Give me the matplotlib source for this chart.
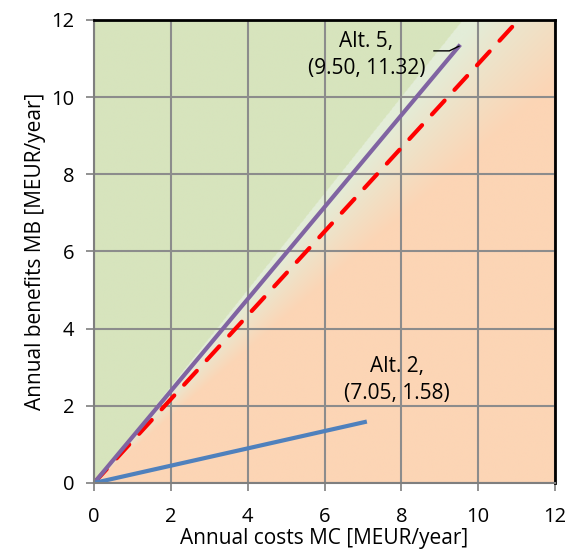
import numpy as np
import matplotlib
matplotlib.use("Agg")
import matplotlib.pyplot as plt
from matplotlib.colors import to_rgb

plt.rcParams['font.family'] = ['Open Sans', 'DejaVu Sans']

# Alternatives: annual costs vs annual benefits (MEUR/year)
alt5_cost = [0.0, 9.50]
alt5_benefit = [0.0, 11.32]
alt2_cost = [0.0, 7.05]
alt2_benefit = [0.0, 1.58]
# Threshold line
threshold_cost = [0.0, 11.05]
threshold_benefit = [0.0, 12.0]
ticks = [0, 2, 4, 6, 8, 10, 12]

fig = plt.figure(figsize=(5.79, 5.54), dpi=100)
ax = fig.add_axes([0.1624, 0.1282, 0.7961, 0.8357])
ax.set_xlim(0, 12)
ax.set_ylim(0, 12)

# Background shading by benefit/cost ratio
n = 600
xs = np.linspace(0, 12, n)
ys = np.linspace(0, 12, n)
X, Y = np.meshgrid(xs, ys)
ratio = Y / np.maximum(X, 1e-9)
green = np.array(to_rgb('#d7e4bd'))
light_green = np.array(to_rgb('#e3edd8'))
orange = np.array(to_rgb('#fcd5b5'))
img = np.zeros((n, n, 3))
t = np.clip((ratio - 0.86) / (1.2 - 0.86), 0, 1)[..., None]
img[:] = orange * (1 - t) + light_green * t
img[ratio > 1.25] = green
ax.imshow(img, origin='lower', extent=[0, 12, 0, 12], aspect='auto',
          interpolation='bilinear', zorder=0)

ax.set_xticks(ticks)
ax.set_yticks(ticks)
ax.grid(True, color='#8c8c8c', linewidth=1.5, zorder=1)
ax.set_axisbelow(False)

ax.plot(threshold_cost, threshold_benefit, color='#ff0000', lw=3.0,
        dashes=(4.5, 3.5), solid_capstyle='round', dash_capstyle='round',
        zorder=3)
ax.plot(alt5_cost, alt5_benefit, color='#8064a2', lw=3.0, zorder=4)
ax.plot(alt2_cost, alt2_benefit, color='#4f81bd', lw=3.0, zorder=4)

# Data labels
ax.text(7.09, 11.09, f"Alt. 5,\n({alt5_cost[1]:.2f}, {alt5_benefit[1]:.2f})",
        ha='center', va='center', fontsize=15, linespacing=1.35, zorder=5)
ax.plot([8.85, 9.25, alt5_cost[1]], [11.2, 11.2, alt5_benefit[1]],
        color='black', lw=1.0, zorder=5)
ax.text(7.89, 2.67, f"Alt. 2,\n({alt2_cost[1]:.2f}, {alt2_benefit[1]:.2f})",
        ha='center', va='center', fontsize=15, linespacing=1.4, zorder=5)

for side in ('left', 'bottom'):
    ax.spines[side].set_color('#7f7f7f')
    ax.spines[side].set_linewidth(1.5)
for side in ('top', 'right'):
    ax.spines[side].set_color('black')
    ax.spines[side].set_linewidth(2.0)
for s in ax.spines.values():
    s.set_zorder(6)

ax.tick_params(axis='both', direction='out', length=6, width=1.2,
               color='#7f7f7f', labelsize=14.5, pad=8)
ax.tick_params(axis='x', pad=11)
ax.set_xlabel('Annual costs MC [MEUR/year]', fontsize=15, labelpad=1)
ax.set_ylabel('Annual benefits MB [MEUR/year]', fontsize=15, labelpad=4)

fig.savefig('out.png', dpi=100)
